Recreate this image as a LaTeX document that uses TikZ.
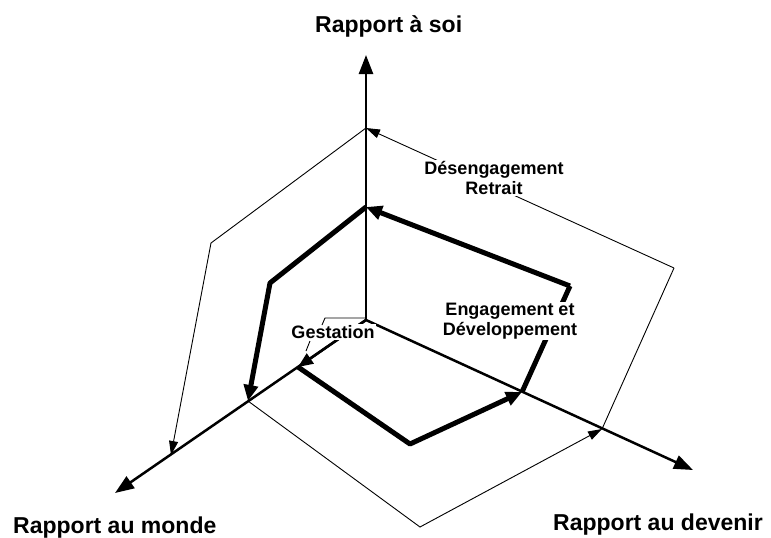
\documentclass[tikz,border=0pt]{standalone}
\usepackage{fontspec}
\setmainfont{Liberation Sans}
\usetikzlibrary{arrows.meta,calc}

\begin{document}
\begin{tikzpicture}[
  x=1pt, y=-1pt,
  title/.style={font=\fontsize{23}{26}\selectfont\bfseries, inner sep=0pt},
  note/.style={font=\fontsize{18}{20}\selectfont\bfseries, fill=white,
               inner sep=1pt, align=center},
  axis/.style={line width=2.5pt, -{Triangle[length=19pt, width=14pt]}},
  heavy/.style={line width=5pt, line join=round},
  light/.style={line width=0.9pt, line join=miter},
  tipH/.style={-{Triangle[length=16pt, width=14pt]}},
  tipL/.style={-{Triangle[length=14pt, width=9pt]}}
]

\useasboundingbox (0,0) rectangle (771,538);

% axes
\coordinate (O)   at (366,320);
\coordinate (soi) at (366,55);
\coordinate (mon) at (115,493);
\coordinate (dev) at (693,470);

\draw[axis] (O) -- (soi);
\draw[axis] (O) -- (mon);
\draw[axis] (O) -- (dev);

% points of the inner cycle
\coordinate (s1) at (366,207);
\coordinate (k1) at (270,283);
\coordinate (m1) at (248,401);
\coordinate (m0) at (298,367);
\coordinate (b1) at (410,444);
\coordinate (d1) at (522,392);
\coordinate (r1) at (570,286);

% points of the outer cycle
\coordinate (s2) at (366,128);
\coordinate (k2) at (211,243);
\coordinate (m2) at (171,455);
\coordinate (b2) at (420,527);
\coordinate (d2) at (602,429);
\coordinate (r2) at (674,268);

% outer cycle
\draw[light, tipL] (r2) -- (s2);
\draw[light, tipL] (s2) -- (k2) -- (m2);
\draw[light, tipL] (m1) -- (b2) -- (d2);
\draw[light] (d2) -- (r2);

% inner cycle
\draw[line width=2.5pt, -{Triangle[length=15pt, width=12pt]}] (O) -- (m0);
\draw[heavy, tipH] (m0) -- (b1) -- (d1);
\draw[heavy] (d1) -- (r1);
\draw[heavy, tipH] (r1) -- (s1);
\draw[heavy, tipH] (s1) -- (k1) -- (m1);

% axis titles
\node[title, anchor=base west] (tsoi) at (315,32)  {Rapport à soi};
\node[title, anchor=base west] (tmon) at (13,533)  {Rapport au monde};
\node[title, anchor=base west] (tdev) at (553,530) {Rapport au devenir};

% phases
\node[note] (desengagement) at (494,178) {Désengagement\\Retrait};
\node[note] (engagement)    at (510,321) {Engagement et\\Développement};
\node[note] (gestation)     at (333,332) {Gestation};

% leaders of Gestation
\coordinate (g1) at (322,325);
\coordinate (g2) at (366,318);
\coordinate (g3) at (310,341);
\coordinate (g4) at (306,351);
\draw[light] (g1) -- (325,318) -- (g2);
\draw[light] (g3) -- (g4);

\end{tikzpicture}
\end{document}
